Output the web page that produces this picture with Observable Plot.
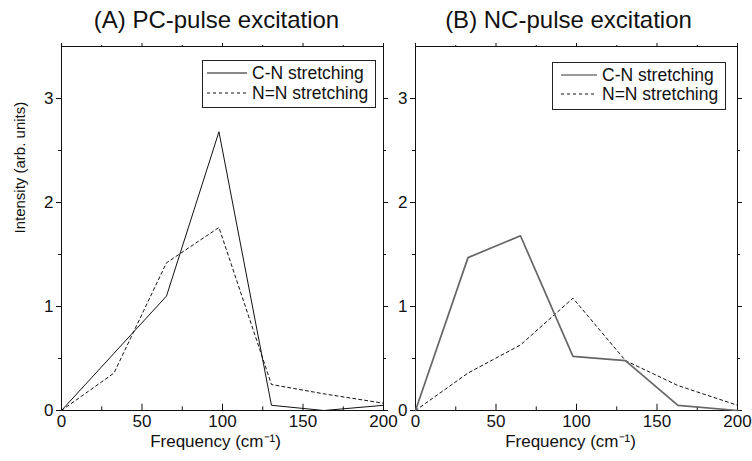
<!DOCTYPE html>
<html>
<head>
<meta charset="utf-8">
<script src="https://cdn.jsdelivr.net/npm/d3@7"></script>
<script src="https://cdn.jsdelivr.net/npm/@observablehq/plot@0.6"></script>
<style>
  body { margin: 0; background: white; }
  #wrap { position: relative; width: 752px; height: 461px; background: white; font-family: "Liberation Sans", Arial, sans-serif; }
  #wrap svg.plot { position: absolute; top: 0; background: transparent; overflow: visible; }
  .legend { position: absolute; border: 1px solid #222; background: white; box-sizing: border-box; }
  .legend .row { position: absolute; left: 0; height: 20px; display: flex; align-items: center; color: #111; white-space: nowrap; }
  .legend .row svg { margin-right: 5px; }
  .legend .row span { font-family: "Liberation Sans", Arial, sans-serif; font-size: 17.5px; }
</style>
</head>
<body>
<div id="wrap"></div>
<script>
// ---- data ----
const freq   = [0, 32.6, 65.2, 97.8, 130.4, 163, 200];
const pcCN   = [0, 0.55, 1.10, 2.68, 0.05, 0.00, 0.05];
const pcNN   = [0, 0.36, 1.42, 1.76, 0.25, 0.16, 0.07];
const ncCN   = [0, 1.47, 1.68, 0.52, 0.48, 0.05, 0.00];
const ncNN   = [0, 0.36, 0.63, 1.08, 0.48, 0.24, 0.05];
const xMajor = [0, 50, 100, 150, 200];
const xMinor = [25, 75, 125, 175];
const yMajor = [0, 1, 2, 3];
const yMinor = [0.5, 1.5, 2.5];
const titles = ["(A) PC-pulse excitation", "(B) NC-pulse excitation"];
const seriesNames = ["C-N stretching", "N=N stretching"];
const xLabel = "Frequency (cm⁻¹)";
const yLabel = "Intensity (arb. units)";

const rows = (ys) => freq.map((f, i) => ({f, v: ys[i]}));
const FONT = "'Liberation Sans', Arial, sans-serif";

function panel(cn, nn, title, opts) {
  const marks = [
    Plot.frame({stroke: "#111", strokeWidth: 1}),
    // bottom axis labels (ticks drawn inward below)
    Plot.axisX({anchor: "bottom", ticks: xMajor, tickSize: 0, tickPadding: 4, tickFormat: d3.format("d"), label: null, fontSize: 17}),
    Plot.ruleX(xMajor, {x: d => d, y1: 0, y2: 0.06, stroke: "#111"}),
    Plot.ruleX(xMinor, {x: d => d, y1: 0, y2: 0.035, stroke: "#111"}),
    // top mirrored ticks
    Plot.axisX({anchor: "top", ticks: xMajor, tickSize: 4, tickFormat: () => "", label: null}),
    Plot.axisX({anchor: "top", ticks: xMinor, tickSize: 2, tickFormat: () => "", label: null}),
    // y axis
    Plot.axisY({anchor: "left", ticks: yMajor, tickSize: 5, tickPadding: opts.yPad, tickFormat: d3.format("d"), label: null, fontSize: 17}),
    Plot.axisY({anchor: "left", ticks: yMinor, tickSize: 3, tickFormat: () => "", label: null}),
    Plot.axisY({anchor: "right", ticks: yMajor, tickSize: 4, tickFormat: () => "", label: null}),
    Plot.axisY({anchor: "right", ticks: yMinor, tickSize: 2, tickFormat: () => "", label: null}),
    // data
    Plot.line(rows(nn), {x: "f", y: "v", stroke: "#111", strokeWidth: 1, strokeDasharray: "3,3"}),
    Plot.line(rows(cn), {x: "f", y: "v", stroke: opts.cnColor, strokeWidth: opts.cnWidth}),
    // texts
    Plot.text([title], {frameAnchor: "top", dy: -26, dx: opts.titleDx, fontSize: 24, fill: "#111", lineAnchor: "middle"}),
    Plot.text([xLabel], {frameAnchor: "bottom", dy: 31, dx: opts.labelDx, fontSize: 17, fill: "#111", lineAnchor: "middle"})
  ];
  if (opts.yLabel) {
    marks.push(Plot.text([yLabel], {frameAnchor: "left", dx: -41, dy: 5, rotate: -90, fontSize: 15, fill: "#111", lineAnchor: "middle"}));
  }
  const svg = Plot.plot({
    width: opts.width,
    height: 461,
    marginLeft: opts.ml,
    marginRight: opts.mr,
    marginTop: 46,
    marginBottom: 51,
    x: {domain: [0, 200]},
    y: {domain: [0, 3.5]},
    style: {fontFamily: FONT, fontSize: "16px", color: "#111", background: "transparent", overflow: "visible"},
    marks
  });
  svg.classList.add("plot");
  svg.style.left = opts.left + "px";
  return svg;
}

const wrap = document.getElementById("wrap");
wrap.appendChild(panel(pcCN, pcNN, titles[0], {width: 395, ml: 61, mr: 12, left: 0, titleDx: -6, labelDx: -7, yPad: 3, yLabel: true, cnColor: "#111", cnWidth: 1}));
wrap.appendChild(panel(ncCN, ncNN, titles[1], {width: 372, ml: 35, mr: 15, left: 380, titleDx: -8, labelDx: -6, yPad: 3, yLabel: false, cnColor: "#666", cnWidth: 1.7}));

function legend(box, cnStyle) {
  const div = document.createElement("div");
  div.className = "legend";
  Object.assign(div.style, {left: box.x + "px", top: box.y + "px", width: box.w + "px", height: box.h + "px"});
  const styles = [cnStyle, {stroke: "#111", width: 1, dash: "3,3"}];
  seriesNames.forEach((name, i) => {
    const row = document.createElement("div");
    row.className = "row";
    row.style.top = (box.rows[i] - box.y - 11) + "px";
    row.style.left = (box.sx - box.x - 1) + "px";
    const s = styles[i];
    row.innerHTML = `<svg width="${box.sw}" height="6"><line x1="0" x2="${box.sw}" y1="3" y2="3" stroke="${s.stroke}" stroke-width="${s.width}" ${s.dash ? `stroke-dasharray="${s.dash}"` : ""}/></svg>`;
    const t = document.createElement("span");
    t.textContent = name;
    row.appendChild(t);
    div.appendChild(row);
  });
  wrap.appendChild(div);
}
legend({x: 202, y: 60, w: 174, h: 48, rows: [73, 93], sx: 207, sw: 40}, {stroke: "#111", width: 1});
legend({x: 552, y: 62, w: 174, h: 48, rows: [75, 94], sx: 561, sw: 36}, {stroke: "#999", width: 2});
</script>
</body>
</html>
